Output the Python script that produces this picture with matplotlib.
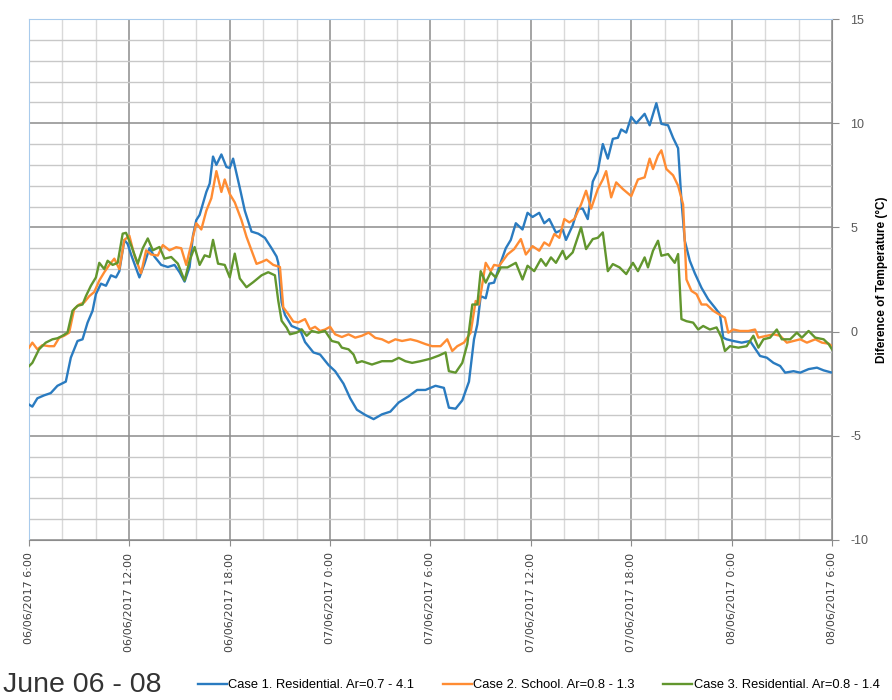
import matplotlib
matplotlib.use("Agg")
import matplotlib.pyplot as plt
import numpy as np

# hours since 06/06/2017 6:00
h_case1 = [0, 0.2, 0.5, 0.9, 1.3, 1.7, 2.2, 2.5, 2.9, 3.2, 3.5, 3.8, 4.0, 4.3, 4.6, 4.9, 5.2, 5.4, 5.7, 5.9,
           6.1, 6.6, 6.9, 7.2, 7.5, 7.9, 8.3, 8.7, 9.0, 9.3, 9.6, 9.8, 10.0, 10.2, 10.6, 10.8, 11.0, 11.2, 11.5, 11.8,
           12.0, 12.2, 12.6, 12.9, 13.3, 13.7, 14.1, 14.5, 14.8, 14.9, 15.1, 15.3, 15.7, 16.2, 16.5, 17.0, 17.4, 17.9,
           18.3, 18.8, 19.2, 19.6, 20.1, 20.6, 21.1, 21.6, 22.1, 22.7, 23.2, 23.7, 24.3, 24.8, 25.1, 25.5, 25.9, 26.3,
           26.6, 26.8, 27.0, 27.3, 27.5, 27.8, 28.1, 28.5, 28.8, 29.1, 29.5, 29.8, 30.1, 30.5, 30.8, 31.1, 31.5, 31.9,
           32.1, 32.5, 32.8, 33.1, 33.4, 33.7, 34.0, 34.3, 34.6, 34.9, 35.2, 35.4, 35.7, 36.0, 36.3, 36.8, 37.1, 37.5,
           37.8, 38.2, 38.5, 38.8, 39.0, 39.2, 39.5, 39.8, 40.2, 40.6, 41.0, 41.3, 41.5, 41.7, 42.1, 42.6, 43.1, 43.5,
           43.7, 44.1, 44.5, 44.9, 45.2, 45.7, 46.1, 46.6, 47.1, 47.5, 48.0]
case1 = [-3.5, -3.6, -3.2, -3.06, -2.95, -2.6, -2.4, -1.25, -0.45, -0.37, 0.43, 1.0, 1.8, 2.3, 2.2, 2.7, 2.6, 2.9, 4.4, 4.2,
         3.7, 2.6, 3.25, 4.0, 3.6, 3.2, 3.1, 3.2, 2.85, 2.4, 3.1, 4.6, 5.35, 5.6, 6.7, 7.1, 8.4, 8.0, 8.5, 7.9,
         7.85, 8.3, 6.9, 5.8, 4.8, 4.7, 4.5, 4.0, 3.6, 3.3, 1.4, 0.8, 0.27, 0.1, -0.5, -1.0, -1.1, -1.6,
         -1.9, -2.5, -3.2, -3.75, -4.0, -4.2, -3.97, -3.84, -3.4, -3.1, -2.8, -2.8, -2.6, -2.7, -3.65, -3.7, -3.3, -2.4,
         -0.37, 0.35, 1.7, 1.6, 2.3, 2.35, 3.1, 4.0, 4.4, 5.2, 4.9, 5.7, 5.5, 5.7, 5.2, 5.4, 4.75, 4.9,
         4.4, 5.1, 5.9, 5.9, 5.4, 7.2, 7.7, 9.0, 8.3, 9.25, 9.3, 9.7, 9.55, 10.3, 10.0, 10.45, 9.9, 10.96,
         9.97, 9.9, 9.3, 8.8, 6.3, 4.36, 3.4, 2.8, 2.1, 1.55, 1.15, 0.83, -0.29, -0.37, -0.45, -0.53, -0.45, -0.93,
         -1.17, -1.25, -1.5, -1.65, -1.97, -1.9, -1.97, -1.8, -1.73, -1.86, -1.97]

h_case2 = [0, 0.2, 0.5, 0.8, 1.2, 1.5, 1.8, 2.1, 2.4, 2.7, 3.0, 3.3, 3.6, 3.9, 4.2, 4.5, 4.8, 5.1, 5.4, 5.7,
           6.0, 6.3, 6.7, 7.0, 7.3, 7.7, 8.0, 8.4, 8.8, 9.1, 9.4, 9.7, 10.0, 10.3, 10.6, 10.9, 11.2, 11.5, 11.7, 12.0,
           12.3, 12.7, 13.0, 13.3, 13.6, 13.9, 14.2, 14.6, 15.0, 15.2, 15.5, 15.8, 16.1, 16.5, 16.8, 17.1, 17.4, 17.7,
           18.0, 18.3, 18.7, 19.1, 19.5, 19.9, 20.3, 20.7, 21.1, 21.5, 21.9, 22.3, 22.8, 23.2, 23.7, 24.1, 24.6, 25.0,
           25.3, 25.6, 26.0, 26.4, 26.7, 26.9, 27.3, 27.6, 27.8, 28.1, 28.6, 29.0, 29.4, 29.7, 30.1, 30.5, 30.8, 31.1,
           31.4, 31.7, 32.0, 32.3, 32.6, 33.0, 33.3, 33.6, 34.0, 34.3, 34.5, 34.8, 35.1, 35.5, 36.0, 36.4, 36.8, 37.1,
           37.3, 37.6, 37.8, 38.1, 38.5, 38.8, 39.1, 39.3, 39.6, 39.9, 40.2, 40.5, 40.9, 41.3, 41.6, 41.8, 42.1, 42.5,
           43.0, 43.4, 43.6, 44.1, 44.5, 44.9, 45.3, 45.7, 46.1, 46.5, 47.0, 47.4, 47.8, 48.0]
case2 = [-0.77, -0.53, -0.85, -0.65, -0.7, -0.7, -0.3, -0.2, -0.05, 1.08, 1.3, 1.4, 1.7, 1.9, 2.45, 2.85, 3.2, 3.5, 3.0, 4.4,
         4.6, 3.65, 2.8, 3.9, 3.7, 3.65, 4.15, 3.9, 4.05, 4.0, 3.2, 4.2, 5.2, 4.9, 5.8, 6.4, 7.7, 6.7, 7.3, 6.6,
         6.2, 5.35, 4.55, 3.9, 3.25, 3.34, 3.45, 3.2, 3.1, 1.16, 0.84, 0.48, 0.44, 0.6, 0.11, 0.23, 0.03, 0.1,
         0.23, -0.13, -0.26, -0.13, -0.29, -0.2, -0.05, -0.3, -0.37, -0.53, -0.37, -0.45, -0.37, -0.45, -0.6, -0.7, -0.7, -0.37,
         -0.93, -0.7, -0.53, -0.05, 1.47, 1.3, 3.3, 2.9, 3.2, 3.15, 3.7, 3.96, 4.44, 3.7, 4.1, 3.88, 4.28, 4.12,
         4.68, 4.5, 5.4, 5.24, 5.4, 6.1, 6.76, 5.9, 6.84, 7.3, 7.7, 6.44, 7.16, 6.84, 6.5, 7.3, 7.4, 8.3,
         7.8, 8.45, 8.7, 7.8, 7.5, 7.0, 6.1, 2.5, 1.95, 1.8, 1.3, 1.3, 1.0, 0.8, 0.67, -0.05, 0.1, 0.03,
         0.03, 0.1, -0.29, -0.2, -0.13, -0.2, -0.53, -0.45, -0.37, -0.53, -0.37, -0.53, -0.58, -0.7]

h_case3 = [0, 0.2, 0.6, 1.0, 1.4, 1.7, 2.0, 2.3, 2.6, 2.9, 3.2, 3.4, 3.7, 4.0, 4.2, 4.5, 4.7, 5.0, 5.3, 5.6,
           5.8, 6.1, 6.5, 6.8, 7.1, 7.4, 7.8, 8.1, 8.5, 8.9, 9.3, 9.6, 9.9, 10.2, 10.5, 10.8, 11.0, 11.3, 11.7, 12.0,
           12.3, 12.6, 13.0, 13.4, 13.9, 14.3, 14.7, 14.9, 15.1, 15.4, 15.6, 16.0, 16.3, 16.6, 16.9, 17.3, 17.7, 18.1,
           18.5, 18.7, 19.1, 19.4, 19.6, 19.9, 20.5, 21.1, 21.7, 22.1, 22.5, 22.9, 23.4, 24.0, 24.5, 24.9, 25.1, 25.5,
           25.9, 26.2, 26.5, 26.8, 27.0, 27.3, 27.6, 27.9, 28.2, 28.6, 29.1, 29.5, 29.8, 30.2, 30.6, 30.9, 31.2, 31.5,
           31.9, 32.1, 32.5, 33.0, 33.3, 33.7, 34.0, 34.3, 34.6, 34.9, 35.3, 35.7, 36.1, 36.4, 36.8, 37.0, 37.3, 37.6,
           37.8, 38.2, 38.6, 38.8, 39.0, 39.3, 39.7, 40.0, 40.3, 40.7, 41.1, 41.4, 41.6, 41.9, 42.4, 42.9, 43.3, 43.6,
           43.9, 44.3, 44.7, 45.0, 45.5, 45.9, 46.2, 46.6, 47.0, 47.5, 47.8, 48.0]
case3 = [-1.66, -1.5, -0.85, -0.53, -0.37, -0.32, -0.2, -0.05, 1.0, 1.24, 1.3, 1.7, 2.2, 2.6, 3.3, 3.0, 3.4, 3.2, 3.3, 4.7,
         4.74, 4.15, 3.26, 4.0, 4.47, 3.9, 4.06, 3.5, 3.58, 3.26, 2.45, 3.4, 4.06, 3.2, 3.66, 3.58, 4.4, 3.26, 3.2, 2.6,
         3.74, 2.55, 2.13, 2.37, 2.7, 2.85, 2.7, 1.48, 0.52, 0.19, -0.13, -0.05, 0.11, -0.2, 0.03, -0.05, 0.03, -0.45,
         -0.53, -0.77, -0.85, -1.1, -1.5, -1.42, -1.58, -1.42, -1.42, -1.26, -1.42, -1.5, -1.42, -1.3, -1.15, -1.0, -1.9, -1.97,
         -1.5, -0.6, 1.3, 1.3, 2.9, 2.35, 2.84, 2.6, 3.08, 3.08, 3.3, 2.5, 3.16, 2.9, 3.48, 3.16, 3.56, 3.3,
         3.88, 3.48, 3.8, 5.0, 3.96, 4.44, 4.5, 4.76, 2.9, 3.24, 3.08, 2.76, 3.3, 2.9, 3.56, 3.08, 3.88, 4.36,
         3.64, 3.72, 3.3, 3.72, 0.6, 0.5, 0.43, 0.1, 0.27, 0.1, 0.2, -0.29, -0.93, -0.7, -0.77, -0.7, -0.2, -0.77,
         -0.37, -0.29, 0.1, -0.37, -0.37, -0.05, -0.29, 0.03, -0.29, -0.37, -0.6, -0.85]

labels = ["Case 1. Residential. Ar=0.7 - 4.1", "Case 2. School. Ar=0.8 - 1.3", "Case 3. Residential. Ar=0.8 - 1.4"]
colors = ["#2a7bc0", "#ff8c33", "#62962e"]
tick_labels = ["06/06/2017 6:00", "06/06/2017 12:00", "06/06/2017 18:00", "07/06/2017 0:00", "07/06/2017 6:00",
               "07/06/2017 12:00", "07/06/2017 18:00", "08/06/2017 0:00", "08/06/2017 6:00"]

fig = plt.figure(figsize=(8.92, 7), dpi=100)
ax = fig.add_axes([29 / 892, 1 - 540 / 700, 803 / 892, 521 / 700])

for hh, vv, lab, c in zip([h_case1, h_case2, h_case3], [case1, case2, case3], labels, colors):
    ax.plot(hh, vv, color=c, lw=1.7, label=lab, solid_joinstyle="round", zorder=3)

ax.set_xlim(0, 48)
ax.set_ylim(-10, 15)

# grid
for x in np.arange(0, 49, 2):
    major = x % 6 == 0
    ax.axvline(x, color="#8c8c8c" if major else "#d9d9d9", lw=1.1 if major else 1.0, zorder=1)
for y in np.arange(-10, 16, 1):
    major = y % 5 == 0
    ax.axhline(y, color="#8c8c8c" if major else "#c8c8c8", lw=1.1 if major else 1.0, zorder=1)

ax.set_xticks(np.arange(0, 49, 6))
ax.set_xticklabels(tick_labels, rotation=90, fontsize=8, color="#404040", family="DejaVu Sans")
ax.tick_params(axis="x", length=4, color="#8c8c8c", pad=5)

ax.yaxis.tick_right()
ax.yaxis.set_label_position("right")
ax.set_yticks(np.arange(-10, 16, 5))
ax.set_yticklabels([str(v) for v in range(-10, 16, 5)], fontsize=9, color="#595959", family="Liberation Sans")
ax.tick_params(axis="y", length=5, color="#8c8c8c", pad=8)
ax.set_ylabel("Diference of Temperature (°C)", fontsize=8.5, fontweight="bold", family="Liberation Sans", labelpad=6)

for s in ["top", "left"]:
    ax.spines[s].set_color("#a9cbec")
for s in ["bottom", "right"]:
    ax.spines[s].set_color("#8c8c8c")

fig.text(0.003, 0.021, "June 06 - 08", fontsize=20.5, family="Liberation Sans", color="#333333", va="center")
fig.legend(loc="center", bbox_to_anchor=(0.604, 0.021), ncol=3, frameon=False,
           prop={"family": "Liberation Sans", "size": 9.3}, handlelength=2.25, columnspacing=2.2,
           handletextpad=0.12)

fig.savefig("out.png", dpi=100)
